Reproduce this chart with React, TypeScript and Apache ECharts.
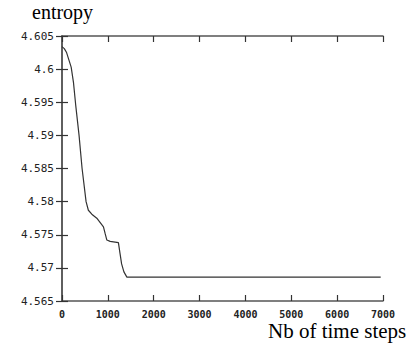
import React, { useEffect, useRef } from "react";
import * as echarts from "echarts";

const steps = [0, 50, 100, 150, 200, 250, 300, 372, 438, 525, 575, 650, 759, 904, 940, 978, 1050, 1230, 1265, 1300, 1350, 1415, 6950];
const entropy = [4.6034, 4.6031, 4.6025, 4.6014, 4.6003, 4.598, 4.5945, 4.59, 4.585, 4.58, 4.5787, 4.5781, 4.5775, 4.5762, 4.5752, 4.5742, 4.574, 4.5738, 4.5722, 4.5706, 4.5694, 4.5686, 4.5686];
const yLabel = "entropy";
const xLabel = "Nb of time steps";

const mono = "DejaVu Sans Mono";
const serif = "Liberation Serif";
const axisColor = "#555";

export default function App() {
  const ref = useRef<HTMLDivElement>(null);
  useEffect(() => {
    if (!ref.current) return;
    const chart = echarts.init(ref.current, null, { renderer: "svg" });
    const fmtY = (v: number) => parseFloat(v.toFixed(3)).toString();
    const fmtX = (v: number) => String(Math.round(v));
    const xBase = { type: "value", min: 0, max: 7000, interval: 1000 };
    const yBase = { type: "value", min: 4.565, max: 4.605, interval: 0.005 };
    const axLine = { show: true, lineStyle: { color: axisColor, width: 1.5 } };
    const tick = { show: true, inside: true, length: 6, lineStyle: { color: "#333", width: 1.2 } };
    chart.setOption({
      animation: false,
      backgroundColor: "#fff",
      grid: { left: 62, top: 36, right: 32, bottom: 45, containLabel: false },
      xAxis: [
        {
          ...xBase,
          position: "bottom",
          axisLine: axLine,
          axisTick: tick,
          splitLine: { show: false },
          axisLabel: { color: "#222", fontFamily: mono, fontSize: 10, lineHeight: 10, fontWeight: "bold", margin: 8, formatter: fmtX },
        },
        {
          ...xBase,
          position: "top",
          axisLine: axLine,
          axisTick: tick,
          splitLine: { show: false },
          axisLabel: { show: false },
        },
      ],
      yAxis: [
        {
          ...yBase,
          position: "left",
          axisLine: axLine,
          axisTick: tick,
          splitLine: { show: false },
          axisLabel: { color: "#222", fontFamily: mono, fontSize: 11, margin: 8, formatter: fmtY },
        },
        {
          ...yBase,
          position: "right",
          axisLine: axLine,
          axisTick: tick,
          splitLine: { show: false },
          axisLabel: { show: false },
        },
      ],
      series: [
        {
          type: "line",
          data: steps.map((s, i) => [s, entropy[i]]),
          showSymbol: false,
          smooth: false,
          lineStyle: { color: "#333", width: 1.2 },
          xAxisIndex: 0,
          yAxisIndex: 0,
        },
      ],
      graphic: [
        {
          type: "text",
          left: 32,
          top: 2,
          style: { text: yLabel, fontFamily: serif, fontSize: 20, fill: "#000" },
        },
        {
          type: "text",
          left: 268,
          top: 320,
          style: { text: xLabel, fontFamily: serif, fontSize: 21, lineHeight: 21, fill: "#000" },
        },
      ],
    });
    return () => chart.dispose();
  }, []);
  return <div ref={ref} style={{ position: "absolute", left: 0, top: 0, width: 415, height: 346 }} />;
}
